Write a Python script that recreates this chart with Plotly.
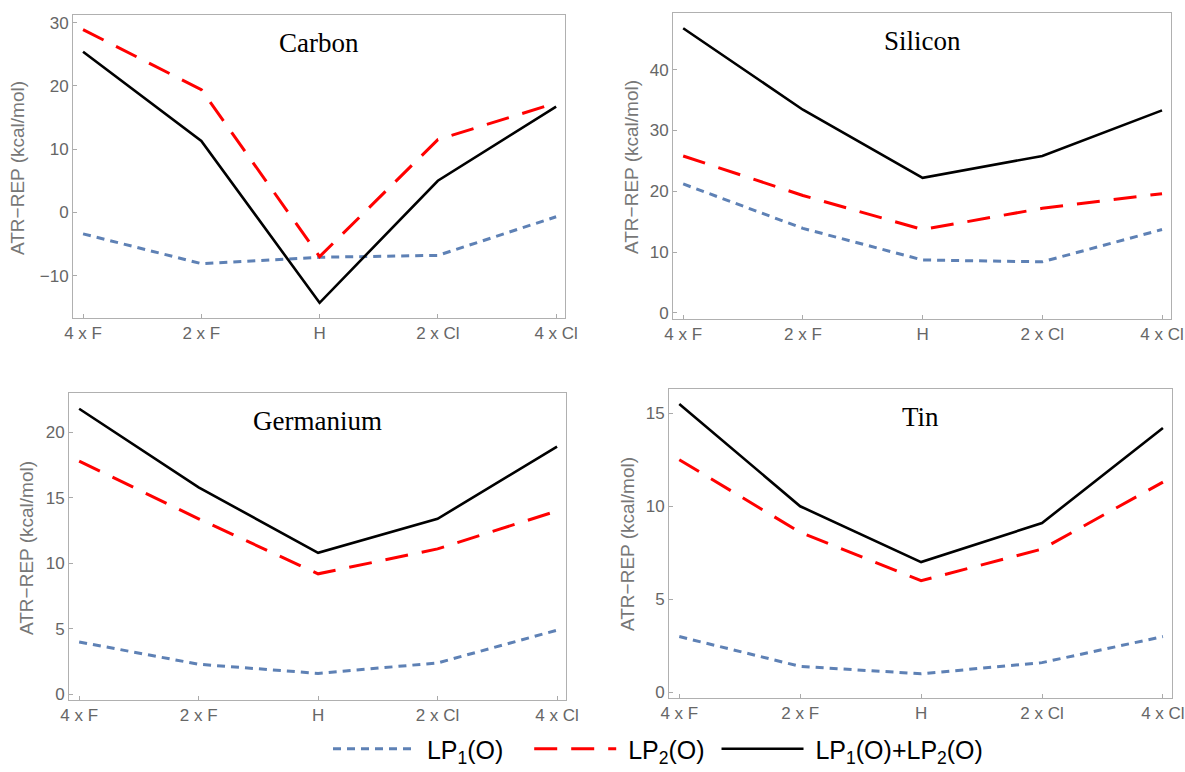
import plotly.graph_objects as go

categories = ["4 x F", "2 x F", "H", "2 x Cl", "4 x Cl"]

carbon_lp1 = [-3.4, -8.1, -7.1, -6.8, -0.7]
carbon_lp2 = [28.9, 19.4, -7.0, 11.5, 17.3]
carbon_sum = [25.4, 11.3, -14.3, 5.0, 16.7]

silicon_lp1 = [21.2, 13.9, 8.7, 8.4, 13.7]
silicon_lp2 = [25.8, 19.3, 13.7, 17.2, 19.6]
silicon_sum = [46.8, 33.4, 22.2, 25.8, 33.3]

germanium_lp1 = [4.0, 2.3, 1.6, 2.4, 4.9]
germanium_lp2 = [17.8, 13.4, 9.2, 11.1, 14.0]
germanium_sum = [21.8, 15.8, 10.8, 13.4, 18.9]

tin_lp1 = [3.0, 1.4, 1.0, 1.6, 3.0]
tin_lp2 = [12.5, 8.6, 6.0, 7.7, 11.3]
tin_sum = [15.5, 10.0, 7.0, 9.1, 14.2]

panel_titles = ["Carbon", "Silicon", "Germanium", "Tin"]
y_title = "ATR\u2212REP (kcal/mol)"
series_names = ["LP<sub>1</sub>(O)", "LP<sub>2</sub>(O)", "LP<sub>1</sub>(O)+LP<sub>2</sub>(O)"]
y_ticks = [[-10, 0, 10, 20, 30], [0, 10, 20, 30, 40], [0, 5, 10, 15, 20], [0, 5, 10, 15]]
y_ranges = [[-16.7, 31.2], [-1.0, 49.3], [-0.43, 23.0], [-0.3, 16.3]]

panels = [
    (carbon_lp1, carbon_lp2, carbon_sum),
    (silicon_lp1, silicon_lp2, silicon_sum),
    (germanium_lp1, germanium_lp2, germanium_sum),
    (tin_lp1, tin_lp2, tin_sum),
]

W, H = 1185, 772
# frame pixel boxes: (left, right, top, bottom)
boxes = [(73, 565, 15, 318), (673, 1171, 13, 319), (69, 566, 393, 700), (669, 1172, 389, 698)]
ytitle_pos = [(17, 168), (631, 167), (26, 548), (627, 544)]
NB = "\u00a0"
legend_pad = [(1, 3), (1, 1), (1, 0)]

styles = [
    dict(color="#5E81B5", width=3, dash="8px,6px"),
    dict(color="#FF0000", width=3, dash="23px,14px"),
    dict(color="#000000", width=2.6, dash="solid"),
]

fig = go.Figure()
xidx = list(range(len(categories)))
for p, data in enumerate(panels):
    ax = "" if p == 0 else str(p + 1)
    for s, vals in enumerate(data):
        pre, post = legend_pad[s]
        fig.add_trace(go.Scatter(
            x=xidx, y=vals, mode="lines", line=styles[s],
            name=NB * pre + series_names[s] + NB * post,
            showlegend=(p == 0), legendrank=s,
            xaxis="x" + ax, yaxis="y" + ax, hoverinfo="skip"))

layout = dict(
    width=W, height=H, margin=dict(l=0, r=0, t=0, b=0, autoexpand=False),
    paper_bgcolor="white", plot_bgcolor="white",
    font=dict(family="Liberation Sans, Arial, sans-serif", color="#666666", size=17),
    showlegend=True,
    legend=dict(orientation="h", x=328 / W, xanchor="left", y=0, yanchor="bottom",
                font=dict(size=25, color="#000000"), itemwidth=82,
                traceorder="normal", bgcolor="rgba(0,0,0,0)"),
)
annotations = []
for p in range(4):
    l, r, t, b = boxes[p]
    ax = "" if p == 0 else str(p + 1)
    layout["xaxis" + ax] = dict(
        domain=[l / W, r / W], anchor="y" + ax, range=[-0.085, 4.075],
        tickmode="array", tickvals=xidx, ticktext=categories,
        ticks="inside", ticklen=4, tickcolor="#aaaaaa",
        showline=True, linecolor="#b0b0b0", linewidth=1, mirror=True,
        showgrid=False, zeroline=False, tickfont=dict(size=17, color="#666666"))
    layout["yaxis" + ax] = dict(
        domain=[1 - b / H, 1 - t / H], anchor="x" + ax, range=y_ranges[p],
        tickmode="array", tickvals=y_ticks[p],
        ticks="inside", ticklen=4, tickcolor="#aaaaaa",
        showline=True, linecolor="#b0b0b0", linewidth=1, mirror=True,
        showgrid=False, zeroline=False, tickfont=dict(size=17, color="#666666"))
    annotations.append(dict(
        text=panel_titles[p], xref="paper", yref="paper",
        x=(l + r) / 2 / W, y=1 - (t + 28) / H, xanchor="center", yanchor="middle",
        showarrow=False, font=dict(family="Liberation Serif, Times New Roman, serif", size=27, color="#000000")))
    tx, ty = ytitle_pos[p]
    annotations.append(dict(
        text=y_title, xref="paper", yref="paper", x=tx / W, y=1 - ty / H,
        xanchor="center", yanchor="middle", textangle=-90, showarrow=False,
        font=dict(size=19, color="#777777")))
layout["annotations"] = annotations
fig.update_layout(**layout)
fig.write_html("out.html")
